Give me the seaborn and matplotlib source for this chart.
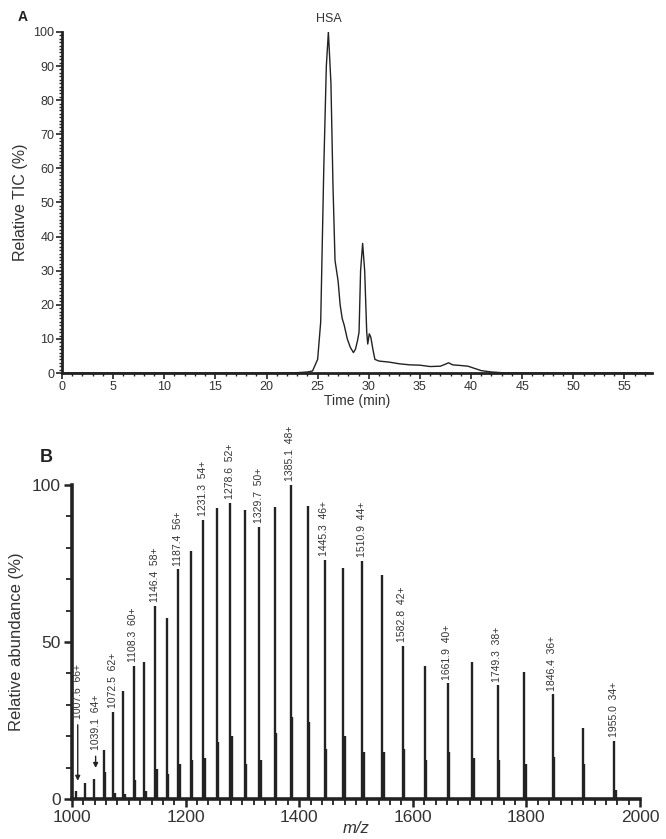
import numpy as np
import pandas as pd
import matplotlib
matplotlib.use("Agg")
import matplotlib.pyplot as plt
from matplotlib.ticker import MultipleLocator
import seaborn as sns

# Panel A: total ion chromatogram
TIME_MIN = [0, 10, 20, 23, 24, 24.5, 25, 25.3, 25.6, 25.85, 26.05, 26.3, 26.5, 26.7,
            27.0, 27.2, 27.4, 27.6, 27.9, 28.2, 28.5, 28.7, 28.9, 29.05, 29.2, 29.4,
            29.6, 29.8, 29.9, 30.05, 30.2, 30.4, 30.6, 31, 32, 33, 34, 35, 36, 37,
            37.5, 37.8, 38.2, 39, 39.7, 40.5, 41, 42, 43, 45, 57.5]
REL_TIC = [0, 0, 0, 0.1, 0.3, 0.6, 4, 15, 60, 90, 100, 85, 55, 33,
           27, 20, 16, 14, 10, 7.5, 6, 7, 9.5, 12, 30, 38,
           30, 12, 8.5, 11.5, 10.5, 7, 4, 3.5, 3.2, 2.7, 2.4, 2.3, 1.9, 2.0,
           2.6, 3.0, 2.4, 2.2, 2.0, 1.2, 0.7, 0.3, 0.1, 0, 0]

# Panel B: charge-state envelope of HSA
MZ = [1007.6, 1023.1, 1039.1, 1055.6, 1072.5, 1090.1, 1108.3, 1127.1, 1146.4, 1166.6,
      1187.4, 1209.0, 1231.3, 1254.5, 1278.6, 1303.7, 1329.7, 1356.9, 1385.1, 1414.6,
      1445.3, 1477.4, 1510.9, 1546.1, 1582.8, 1621.4, 1661.9, 1704.5, 1749.3, 1796.6,
      1846.4, 1899.2, 1955.0]
CHARGE = [66, 65, 64, 63, 62, 61, 60, 59, 58, 57, 56, 55, 54, 53, 52, 51, 50, 49, 48,
          47, 46, 45, 44, 43, 42, 41, 40, 39, 38, 37, 36, 35, 34]
ABUNDANCE = [2.4, 5.0, 6.5, 15.7, 27.8, 34.4, 42.3, 43.7, 61.5, 57.7,
             73.1, 78.9, 88.9, 92.6, 94.4, 91.9, 86.6, 93.1, 100, 93.4,
             76.2, 73.7, 75.8, 71.4, 48.7, 42.3, 36.8, 43.7, 36.2, 40.4,
             33.3, 22.5, 18.5]
ADDUCT = [0, 0, 0, 8.5, 2, 1.5, 6, 2.5, 9.5, 8,
          11, 12.5, 13, 18, 20, 11, 12.5, 21, 26, 24.5,
          16, 20, 15, 15, 15.8, 12.5, 15, 13, 12.5, 11,
          13.5, 11, 3]
LABELED = [66, 64, 62, 60, 58, 56, 54, 52, 50, 48, 46, 44, 42, 40, 38, 36, 34]
ARROW_TOP = {66: 24.5, 64: 14.5}

sns.set_theme(style="ticks")
plt.rcParams["font.family"] = ["Liberation Sans", "DejaVu Sans"]
INK = "#222222"
TXT = "#333333"

fig = plt.figure(figsize=(6.66, 8.39), dpi=100)
ax_a = fig.add_axes([0.0931, 0.5554, 0.8859, 0.4065])
ax_b = fig.add_axes([0.1081, 0.0477, 0.8529, 0.3742])

# ---- Panel A
tic = pd.DataFrame({"time": TIME_MIN, "tic": REL_TIC})
sns.lineplot(data=tic, x="time", y="tic", ax=ax_a, color=INK, linewidth=1.0)
ax_a.set_xlim(0, 57.7)
ax_a.set_ylim(0, 100)
ax_a.xaxis.set_major_locator(MultipleLocator(5))
ax_a.xaxis.set_minor_locator(MultipleLocator(1))
ax_a.yaxis.set_major_locator(MultipleLocator(10))
ax_a.yaxis.set_minor_locator(MultipleLocator(1))
ax_a.tick_params(which="major", length=4, width=1.2, color=INK, labelsize=9,
                 labelcolor=TXT, pad=1.5)
ax_a.tick_params(which="minor", length=2.5, width=1.0, color=INK)
ax_a.set_xlabel("Time (min)", fontsize=10, color=TXT, labelpad=1)
ax_a.set_ylabel("Relative TIC (%)", fontsize=11.5, color=TXT, labelpad=4)
sns.despine(ax=ax_a)
for s in ("left", "bottom"):
    ax_a.spines[s].set_linewidth(2.0)
    ax_a.spines[s].set_color(INK)
ax_a.text(26.05, 102, "HSA", ha="center", va="bottom", fontsize=9, color=TXT)
fig.text(0.027, 0.988, "A", fontsize=10, fontweight="bold", va="top", color=INK)

# ---- Panel B
shift = 2.5
ax_b.vlines(MZ, 0, ABUNDANCE, color=INK, linewidth=1.7)
ax_b.vlines(np.array(MZ) + shift, 0, ADDUCT, color=INK, linewidth=1.7)
ax_b.set_xlim(1000, 2000)
ax_b.set_ylim(0, 100)
ax_b.xaxis.set_major_locator(MultipleLocator(200))
ax_b.xaxis.set_minor_locator(MultipleLocator(20))
ax_b.yaxis.set_major_locator(MultipleLocator(50))
ax_b.yaxis.set_minor_locator(MultipleLocator(10))
ax_b.tick_params(which="major", length=6, width=1.8, color=INK, labelsize=12.5,
                 labelcolor=TXT, pad=2)
ax_b.tick_params(which="minor", length=4, width=1.3, color=INK)
ax_b.set_xlabel("m/z", fontsize=12, style="italic", color=TXT, labelpad=-3)
ax_b.set_ylabel("Relative abundance (%)", fontsize=12, color=TXT, labelpad=6)
sns.despine(ax=ax_b)
for s in ("left", "bottom"):
    ax_b.spines[s].set_linewidth(2.6)
    ax_b.spines[s].set_color(INK)

for mz, z, h in zip(MZ, CHARGE, ABUNDANCE):
    if z not in LABELED:
        continue
    label = f"{mz:.1f}  {z}+"
    if z in ARROW_TOP:
        top = ARROW_TOP[z]
        ax_b.annotate("", xy=(mz + shift, h + 2.5), xytext=(mz + shift, top),
                      arrowprops=dict(arrowstyle="-|>", color=INK, lw=1.0,
                                      mutation_scale=7))
        ax_b.annotate(label, xy=(mz + shift, top + 1), xytext=(0.5, 0),
                      textcoords="offset points", rotation=90, ha="center",
                      va="bottom", fontsize=7.5, color=TXT, annotation_clip=False)
    else:
        ax_b.text(mz - 1, h + 1.2, label, rotation=90, ha="center", va="bottom",
                  fontsize=7.5, color=TXT, clip_on=False)

fig.text(0.06, 0.455, "B", fontsize=13, fontweight="bold", va="center", color=INK)

fig.savefig("out.png", dpi=100, facecolor="white")
